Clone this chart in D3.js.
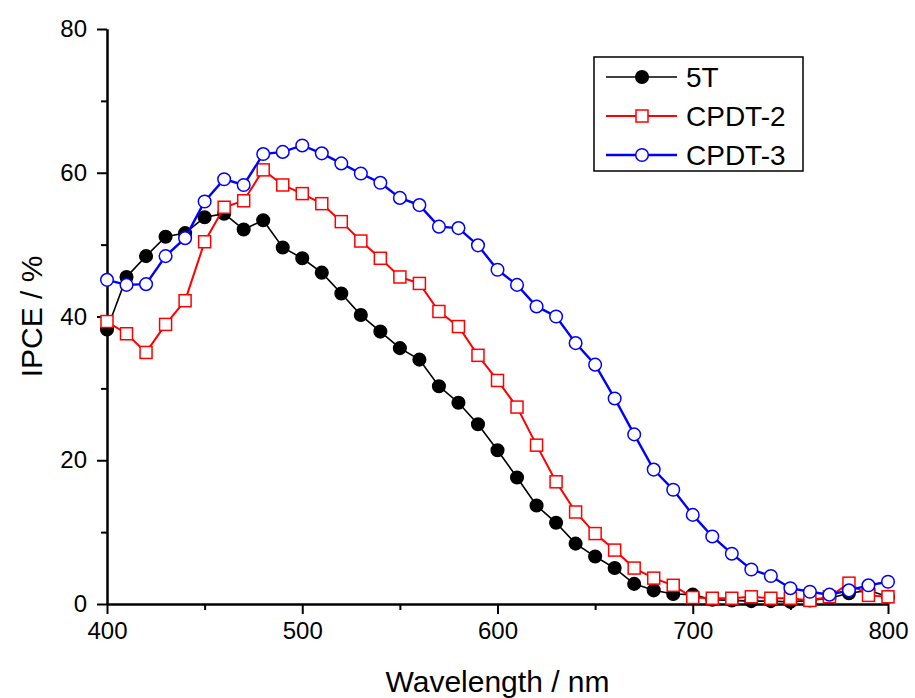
<!DOCTYPE html>
<html>
<head>
<meta charset="utf-8">
<script src="https://cdn.jsdelivr.net/npm/d3@7"></script>
<style>
  body { margin: 0; background: #fff; }
  #chart text { font-family: "Liberation Sans", Arial, sans-serif; fill: #000; }
</style>
</head>
<body>
<div id="chart"></div>
<script>
// wavelength (nm)
const wavelength = [400, 410, 420, 430, 440, 450, 460, 470, 480, 490,
  500, 510, 520, 530, 540, 550, 560, 570, 580, 590,
  600, 610, 620, 630, 640, 650, 660, 670, 680, 690,
  700, 710, 720, 730, 740, 750, 760, 770, 780, 790, 800]

// IPCE (%)
const ipce5T = [38.2, 45.5, 48.4, 51.1, 51.6, 53.8, 54.3, 52.1, 53.4, 49.6,
  48.1, 46.1, 43.2, 40.2, 37.9, 35.6, 34.0, 30.3, 28.0, 25.0,
  21.4, 17.6, 13.7, 11.3, 8.4, 6.6, 5.0, 2.8, 1.9, 1.4,
  1.3, 0.6, 0.5, 0.4, 0.4, 0.3, 0.5, 0.8, 1.5, 1.9, 1.0]
const ipceCPDT2 = [39.3, 37.6, 35.0, 38.9, 42.2, 50.4, 55.2, 56.1, 60.4, 58.3,
  57.1, 55.7, 53.2, 50.5, 48.1, 45.5, 44.6, 40.7, 38.6, 34.6,
  31.1, 27.4, 22.1, 17.0, 12.8, 9.8, 7.5, 5.0, 3.6, 2.6,
  0.9, 0.8, 0.8, 1.0, 0.8, 0.8, 0.5, 1.0, 2.9, 1.2, 1.0]
const ipceCPDT3 = [45.1, 44.4, 44.5, 48.4, 50.9, 56.0, 59.1, 58.3, 62.6, 62.9,
  63.8, 62.7, 61.3, 59.9, 58.6, 56.5, 55.5, 52.5, 52.3, 49.9,
  46.5, 44.4, 41.4, 40.0, 36.3, 33.3, 28.6, 23.6, 18.7, 15.9,
  12.4, 9.4, 7.0, 4.8, 3.9, 2.2, 1.7, 1.3, 1.9, 2.6, 3.1]

const seriesNames = ['5T', 'CPDT-2', 'CPDT-3']
const xMajorTicks = [400, 500, 600, 700, 800]
const xMinorTicks = [450, 550, 650, 750]
const yMajorTicks = [0, 20, 40, 60, 80]
const yMinorTicks = [10, 30, 50, 70]

const series = [
  { name: seriesNames[0], values: ipce5T, color: '#000', shape: 'dot', width: 1.6 },
  { name: seriesNames[1], values: ipceCPDT2, color: '#ff0000', shape: 'square', width: 2 },
  { name: seriesNames[2], values: ipceCPDT3, color: '#0000ff', shape: 'circle', width: 2.4 }
]

const width = 915, height = 698
const margin = { top: 29, right: 27, bottom: 94, left: 107 }
const innerW = width - margin.left - margin.right
const innerH = height - margin.top - margin.bottom

const svg = d3.select('#chart')
  .append('svg')
  .attr('width', width)
  .attr('height', height)

const g = svg.append('g').attr('transform', `translate(${margin.left},${margin.top})`)

const xScale = d3.scaleLinear().domain([400, 800]).range([0, innerW])
const yScale = d3.scaleLinear().domain([0, 80]).range([innerH, 0])

function drawXAxis() {
  g.append('g').attr('class', 'x-minor')
    .attr('transform', `translate(0,${innerH})`)
    .call(d3.axisBottom(xScale).tickValues(xMinorTicks).tickSize(6).tickSizeOuter(0).tickFormat(''))
  g.append('g').attr('class', 'x-axis')
    .attr('transform', `translate(0,${innerH})`)
    .call(d3.axisBottom(xScale).tickValues(xMajorTicks).tickSize(10).tickSizeOuter(0).tickPadding(8))
    .selectAll('text').style('font-size', '24px')

  g.append('text')
    .attr('x', innerW / 2)
    .attr('y', innerH + 88)
    .attr('text-anchor', 'middle')
    .style('font-size', '30px')
    .text('Wavelength / nm')
}

function drawYAxis() {
  g.append('g').attr('class', 'y-minor')
    .call(d3.axisLeft(yScale).tickValues(yMinorTicks).tickSize(6).tickSizeOuter(0).tickFormat(''))
  g.append('g').attr('class', 'y-axis')
    .call(d3.axisLeft(yScale).tickValues(yMajorTicks).tickSize(10).tickSizeOuter(0).tickPadding(10))
    .selectAll('text').style('font-size', '24px')

  g.append('text')
    .attr('transform', `translate(${-65},${innerH / 2}) rotate(-90)`)
    .attr('text-anchor', 'middle')
    .style('font-size', '30px')
    .text('IPCE / %')

  g.selectAll('.domain, .tick line').attr('stroke', '#000').attr('stroke-width', 2)
}

function drawMarker(sel, s, x, y) {
  if (s.shape === 'square') {
    sel.append('rect')
      .attr('x', x - 6).attr('y', y - 6)
      .attr('width', 12).attr('height', 12)
      .attr('fill', '#fff').attr('stroke', s.color).attr('stroke-width', 1.5)
  } else {
    sel.append('circle')
      .attr('cx', x).attr('cy', y).attr('r', 6.3)
      .attr('fill', s.shape === 'dot' ? s.color : '#fff')
      .attr('stroke', s.color).attr('stroke-width', 1.5)
  }
}

function drawLines() {
  const line = d3.line()
    .x((d, i) => xScale(wavelength[i]))
    .y(d => yScale(d))

  series.forEach(s => {
    const sg = g.append('g').attr('class', 'series')
    sg.append('path')
      .attr('d', line(s.values))
      .attr('fill', 'none')
      .attr('stroke', s.color)
      .attr('stroke-width', s.width)
    s.values.forEach((v, i) => drawMarker(sg, s, xScale(wavelength[i]), yScale(v)))
  })
}

function drawLegend() {
  const lg = svg.append('g').attr('class', 'legend').attr('transform', 'translate(594,57)')
  lg.append('rect')
    .attr('width', 209).attr('height', 114)
    .attr('fill', '#fff').attr('stroke', '#000').attr('stroke-width', 1.5)
  series.forEach((s, i) => {
    const y = 20 + i * 39
    lg.append('line')
      .attr('x1', 12).attr('x2', 83).attr('y1', y).attr('y2', y)
      .attr('stroke', s.color).attr('stroke-width', s.width)
    drawMarker(lg, s, 48, y)
    lg.append('text')
      .attr('x', 92).attr('y', y)
      .attr('dy', '0.36em')
      .style('font-size', '28px')
      .text(s.name)
  })
}

drawXAxis()
drawYAxis()
drawLines()
drawLegend()
</script>
</body>
</html>
